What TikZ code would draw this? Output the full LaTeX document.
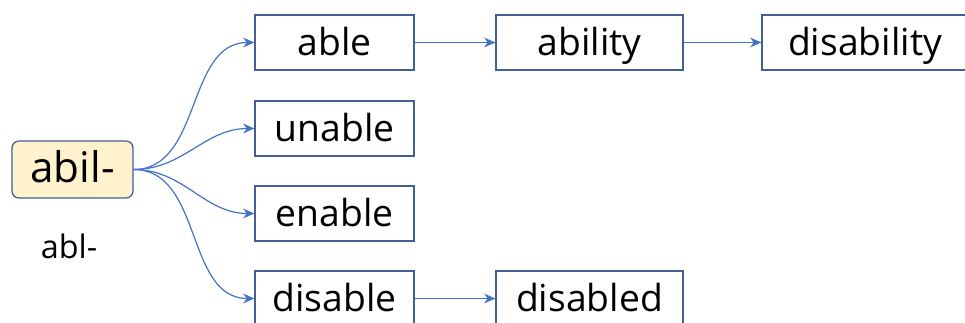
\documentclass[tikz,border=0pt]{standalone}
\usepackage{fontspec}
\setmainfont{Open Sans}
\usetikzlibrary{arrows.meta}
\definecolor{boxblue}{RGB}{68, 94, 150}
\definecolor{linkblue}{RGB}{68, 114, 196}
\definecolor{rootfill}{RGB}{255, 242, 204}
\tikzset{
    word/.style={draw=boxblue, line width=0.9pt, fill=white, minimum height=1.375cm,
        minimum width=3.975cm, inner sep=0pt, text height=18pt, text depth=0pt,
        font=\fontsize{26.5}{30}\selectfont},
    root/.style={draw=boxblue, line width=0.9pt, fill=rootfill, rounded corners=5pt,
        minimum width=3.025cm, minimum height=1.425cm, inner sep=0pt,
        text height=19pt, text depth=0pt, font=\fontsize{30}{34}\selectfont},
    link/.style={line width=0.85pt, -{Stealth[length=8pt, width=7pt]}, color=linkblue}
}
\begin{document}
\begin{tikzpicture}[x=0.025cm, y=-0.025cm]
        \useasboundingbox (0, 0) rectangle (965, 322);
        
        % Root
        \node[root] (abil) at (72.5, 169.5) {abil-};
        \node[font=\fontsize{23}{27}\selectfont] (abl) at (69, 246) {abl-};
        
        % First column
        \node[word] (able) at (334.5, 42.5) {able};
        \node[word] (unable) at (334.5, 128.5) {unable};
        \node[word] (enable) at (334.5, 213.5) {enable};
        \node[word] (disable) at (334.5, 298.5) {disable};
        
        % Second column
        \node[word, minimum width=4.675cm] (ability) at (589.5, 42.5) {ability};
        \node[word, minimum width=4.675cm] (disabled) at (589.5, 298.5) {disabled};
        
        % Third column
        \node[word, minimum width=5.15cm] (disability) at (865, 42.5) {disability};
        
        % Links
        \draw[link] (abil.east) to[out=0, in=180] (able.west);
        \draw[link] (abil.east) to[out=0, in=180] (unable.west);
        \draw[link] (abil.east) to[out=0, in=180] (enable.west);
        \draw[link] (abil.east) to[out=0, in=180] (disable.west);
        \draw[link] (able) -- (ability);
        \draw[link] (ability) -- (disability);
        \draw[link] (disable) -- (disabled);
    \end{tikzpicture}
\end{document}
